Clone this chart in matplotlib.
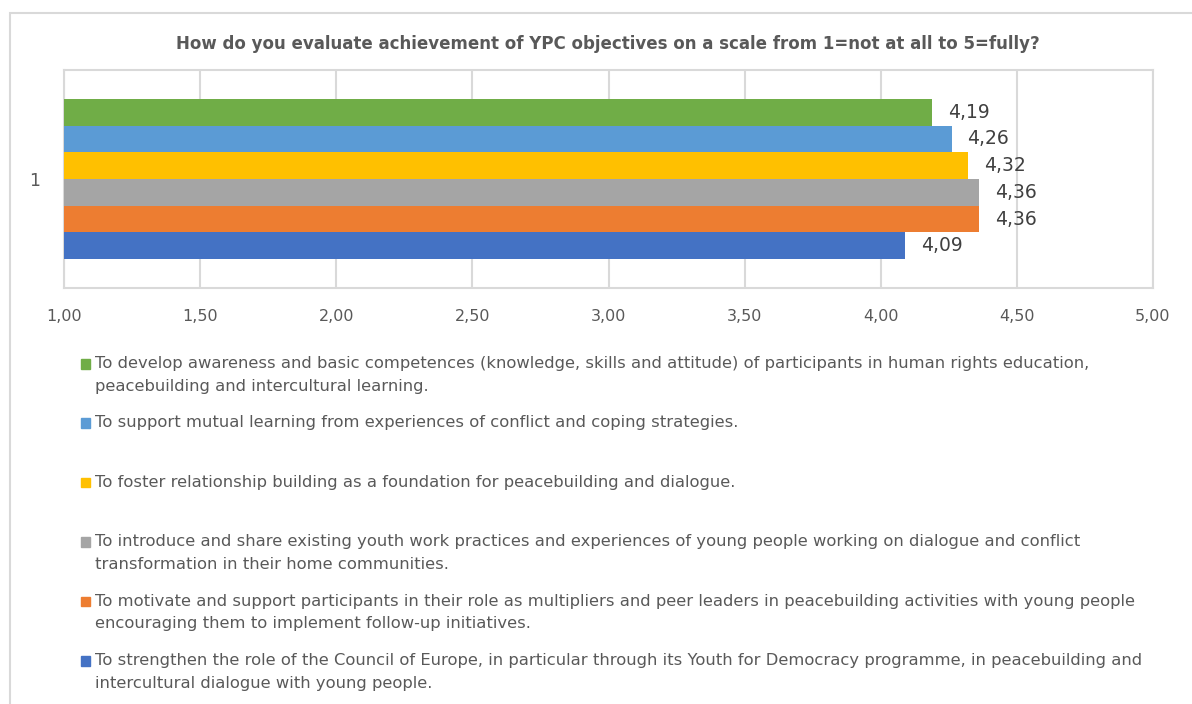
import matplotlib
matplotlib.use("Agg")
import matplotlib.pyplot as plt
from matplotlib.patches import Rectangle
import matplotlib.transforms as mtransforms

title = "How do you evaluate achievement of YPC objectives on a scale from 1=not at all to 5=fully?"
category = "1"
objectives = [
    "To develop awareness and basic competences (knowledge, skills and attitude) of participants in human rights education,\npeacebuilding and intercultural learning.",
    "To support mutual learning from experiences of conflict and coping strategies.",
    "To foster relationship building as a foundation for peacebuilding and dialogue.",
    "To introduce and share existing youth work practices and experiences of young people working on dialogue and conflict\ntransformation in their home communities.",
    "To motivate and support participants in their role as multipliers and peer leaders in peacebuilding activities with young people\nencouraging them to implement follow-up initiatives.",
    "To strengthen the role of the Council of Europe, in particular through its Youth for Democracy programme, in peacebuilding and\nintercultural dialogue with young people.",
]
scores = [4.19, 4.26, 4.32, 4.36, 4.36, 4.09]
colors = ["#70AD47", "#5B9BD5", "#FFC000", "#A5A5A5", "#ED7D31", "#4472C4"]
xticks = [1.0, 1.5, 2.0, 2.5, 3.0, 3.5, 4.0, 4.5, 5.0]

W, H = 1192, 704
plt.rcParams['font.family'] = ['DejaVu Sans']
fig = plt.figure(figsize=(W / 100, H / 100), dpi=100)

def fx(px):
    return px / W

def fy(py):
    return 1 - py / H

# chart border
fig.patches.append(Rectangle((fx(9.5), fy(730)), fx(1300), fy(12.7) - fy(730),
                             transform=fig.transFigure, fill=False,
                             edgecolor="#D9D9D9", linewidth=1.5))

# plot area
left, right, top, bottom = 64, 1153, 70, 288
ax = fig.add_axes([fx(left), fy(bottom), fx(right - left), (bottom - top) / H])

n = len(scores)
group_width = 0.735
bh = group_width / n
off = mtransforms.ScaledTranslation(16 / 100, 0, fig.dpi_scale_trans)
for i, (v, c) in enumerate(zip(scores, colors)):
    y = group_width / 2 - bh / 2 - i * bh
    ax.barh(y, v - 1.0, left=1.0, height=bh, color=c, zorder=3)
    ax.text(v, y, f"{v:.2f}".replace(".", ","), va="center", ha="left",
            fontsize=13.5, color="#404040", zorder=4,
            transform=ax.transData + off)

ax.set_xlim(1, 5)
ax.set_ylim(-0.5, 0.5)
ax.set_xticks(xticks)
ax.set_xticklabels([f"{x:.2f}".replace(".", ",") for x in xticks])
ax.set_yticks([0])
ax.set_yticklabels([category])
ax.grid(axis="x", color="#D9D9D9", linewidth=1.5, zorder=0)
for s in ax.spines.values():
    s.set_color("#D9D9D9")
    s.set_linewidth(1.5)
ax.tick_params(axis="both", length=0, colors="#595959", labelsize=11.5)
ax.tick_params(axis="x", pad=15)
ax.tick_params(axis="y", pad=17.5, labelsize=12.5)

fig.text(fx(608), fy(44), title, ha="center", va="center", fontsize=12,
         fontweight="bold", color="#595959")

# legend
for i, (lab, c) in enumerate(zip(objectives, colors)):
    ytop = 359 + i * 59.4
    fig.patches.append(Rectangle((fx(80.5), fy(ytop + 9.5)), fx(9.5), 9.5 / H,
                                 transform=fig.transFigure, color=c))
    fig.text(fx(95), fy(ytop - 3), lab, ha="left", va="top", fontsize=11.75,
             color="#595959", linespacing=1.65)

fig.savefig("out.png", dpi=100)
